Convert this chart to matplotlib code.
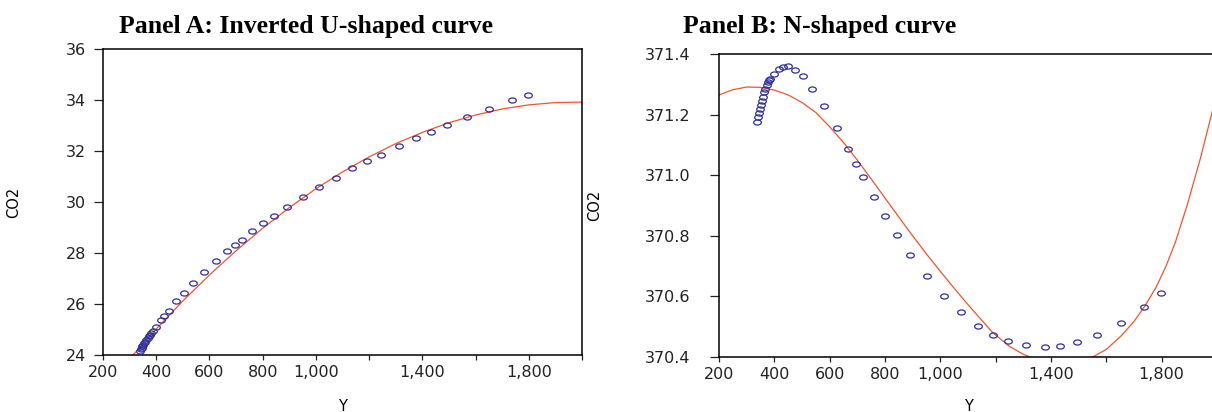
import matplotlib
matplotlib.use('Agg')
import matplotlib.pyplot as plt
from matplotlib.path import Path
from matplotlib.transforms import Affine2D

# Datos
gdp = [1796, 1738, 1652, 1566, 1494, 1433, 1377, 1311, 1245, 1192, 1137, 1074,
       1012, 951, 892, 843, 801, 761, 722, 695, 667, 626, 581, 538, 503, 476,
       448, 430, 417, 399, 386, 380, 376, 372, 368, 362, 358, 354, 351, 348,
       345, 341, 338]
co2_a = [34.19, 33.99, 33.66, 33.32, 33.02, 32.76, 32.52, 32.19, 31.86, 31.60,
         31.32, 30.95, 30.59, 30.20, 29.82, 29.47, 29.16, 28.86, 28.53, 28.32,
         28.06, 27.68, 27.24, 26.81, 26.43, 26.10, 25.74, 25.54, 25.37, 25.08,
         24.94, 24.86, 24.80, 24.74, 24.67, 24.60, 24.53, 24.46, 24.40, 24.34,
         24.28, 24.22, 24.17]
co2_b = [370.610, 370.566, 370.513, 370.471, 370.448, 370.436, 370.433,
         370.438, 370.454, 370.474, 370.502, 370.547, 370.601, 370.666,
         370.737, 370.804, 370.867, 370.928, 370.994, 371.036, 371.085,
         371.155, 371.227, 371.286, 371.326, 371.348, 371.359, 371.357,
         371.352, 371.334, 371.319, 371.313, 371.307, 371.297, 371.286,
         371.273, 371.259, 371.246, 371.232, 371.219, 371.205, 371.191,
         371.175]

# Curvas ajustadas (leídas punto a punto)
fit_a_x = [300, 400, 500, 600, 700, 800, 900, 1000, 1100, 1200, 1300, 1400,
           1500, 1600, 1700, 1800, 1900, 2000]
fit_a_y = [23.85, 25.02, 26.12, 27.14, 28.09, 28.97, 29.78, 30.52, 31.18,
           31.77, 32.29, 32.73, 33.11, 33.41, 33.65, 33.81, 33.90, 33.92]
fit_b_x = [200, 250, 300, 350, 400, 450, 500, 550, 600, 650, 700, 750, 800,
           850, 900, 950, 1000, 1050, 1100, 1150, 1190, 1250, 1300, 1350,
           1400, 1450, 1500, 1551, 1600, 1654, 1700, 1738, 1780, 1816, 1850,
           1892, 1940, 1980, 2000]
fit_b_y = [371.265, 371.282, 371.291, 371.290, 371.281, 371.265, 371.240,
           371.207, 371.160, 371.108, 371.050, 370.988, 370.925, 370.862,
           370.800, 370.740, 370.683, 370.627, 370.573, 370.521, 370.480,
           370.435, 370.409, 370.391, 370.381, 370.379, 370.386, 370.400,
           370.425, 370.470, 370.517, 370.566, 370.630, 370.700, 370.780,
           370.900, 371.055, 371.199, 371.275]

x_ticks = [200, 400, 600, 800, 1000, 1200, 1400, 1600, 1800, 2000]
x_labels = ['200', '400', '600', '800', '1,000', '', '1,400', '', '1,800', '']
ya_ticks = [24, 26, 28, 30, 32, 34, 36]
yb_ticks = [370.4, 370.6, 370.8, 371.0, 371.2, 371.4]
yb_labels = ['370.4', '370.6', '370.8', '371.0', '371.2', '371.4']

plt.rcParams['font.family'] = ['DejaVu Sans']

fig = plt.figure(figsize=(12.12, 4.12), dpi=100)
ax_a = fig.add_axes([0.085, 0.1383, 0.3952, 0.7427])
ax_b = fig.add_axes([0.5932, 0.1335, 0.4109, 0.7354])

ell = Path.unit_circle().transformed(Affine2D().scale(1.5, 1.0))
azul = '#2f2f9c'
rojo = '#f2552c'

for ax, yv, fx, fy in [(ax_a, co2_a, fit_a_x, fit_a_y), (ax_b, co2_b, fit_b_x, fit_b_y)]:
    ax.plot(fx, fy, color=rojo, lw=0.9, zorder=2)
    ax.plot(gdp, yv, ls='none', marker=ell, ms=5.5, mfc='none', mec=azul, mew=0.9, zorder=3)
    ax.set_xlim(200, 2000)
    ax.set_xticks(x_ticks)
    ax.set_xticklabels(x_labels)
    for s in ax.spines.values():
        s.set_linewidth(1.1)
    ax.tick_params(axis='x', direction='out', length=3.5, width=0.9, pad=4, labelsize=11.5, colors='#222')
    ax.set_xlabel('Y', fontsize=10.5)

ax_a.set_ylim(24, 36)
ax_a.set_yticks(ya_ticks)
ax_a.tick_params(axis='y', direction='out', length=6.5, width=0.9, pad=5.5, labelsize=11.5, colors='#222')
ax_a.set_ylabel('CO2', fontsize=10.5)
ax_a.yaxis.set_label_coords(-0.171, 0.5)
ax_a.xaxis.set_label_coords(0.5, -0.143)

ax_b.set_ylim(370.4, 371.4)
ax_b.set_yticks(yb_ticks)
ax_b.set_yticklabels(yb_labels)
ax_b.tick_params(axis='y', direction='out', length=6.5, width=0.9, pad=14, labelsize=11.5, colors='#222')
ax_b.set_ylabel('CO2', fontsize=10.5)
ax_b.yaxis.set_label_coords(-0.235, 0.5)
ax_b.xaxis.set_label_coords(0.5, -0.138)

fig.text(0.2525, 0.919, 'Panel A: Inverted U-shaped curve', ha='center', va='baseline',
         family='Liberation Serif', weight='bold', fontsize=18.5)
fig.text(0.6766, 0.919, 'Panel B: N-shaped curve', ha='center', va='baseline',
         family='Liberation Serif', weight='bold', fontsize=18.5)

fig.savefig('out.png', dpi=100)
